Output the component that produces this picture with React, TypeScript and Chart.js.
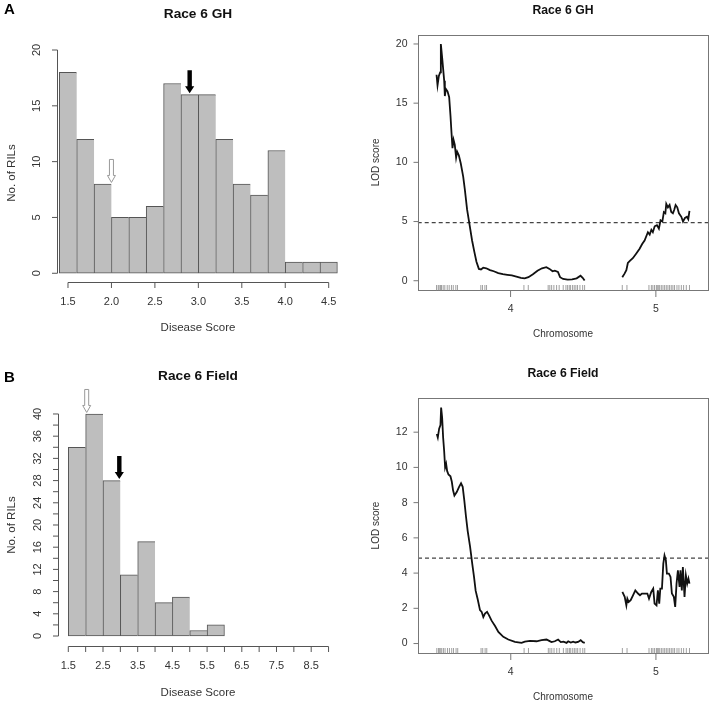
import React, { useEffect, useRef } from "react";
import { Chart, registerables } from "chart.js";
Chart.register(...registerables);

const W = 713;
const H = 704;
const FONT = "'Liberation Sans', Arial, Helvetica, sans-serif";

// ---------- Histogram A: Race 6 GH ----------
const ghBinStarts = [1.4, 1.6, 1.8, 2.0, 2.2, 2.4, 2.6, 2.8, 3.0, 3.2, 3.4, 3.6, 3.8, 4.0, 4.2, 4.4];
const ghCounts = [18, 12, 8, 5, 5, 6, 17, 16, 16, 12, 8, 7, 11, 1, 1, 1];
const ghBinWidth = 0.2;
const ghXTicks = [1.5, 2.0, 2.5, 3.0, 3.5, 4.0, 4.5];
const ghXLabels = [1.5, 2.0, 2.5, 3.0, 3.5, 4.0, 4.5];
const ghYTicks = [0, 5, 10, 15, 20];
const ghYLabels = [0, 5, 10, 15, 20];
const ghArrowX = [2.0, 2.9];
const ghArrowY = [8, 16];
const ghArrowFilled = [false, true];

// ---------- Histogram B: Race 6 Field ----------
const fieldBinStarts = [1.5, 2.0, 2.5, 3.0, 3.5, 4.0, 4.5, 5.0, 5.5];
const fieldCounts = [34, 40, 28, 11, 17, 6, 7, 1, 2];
const fieldBinWidth = 0.5;
const fieldXTicks = [1.5, 2.0, 2.5, 3.0, 3.5, 4.0, 4.5, 5.0, 5.5, 6.0, 6.5, 7.0, 7.5, 8.0, 8.5, 9.0];
const fieldXLabels = [1.5, 2.5, 3.5, 4.5, 5.5, 6.5, 7.5, 8.5];
const fieldYTicks = [0, 2, 4, 6, 8, 10, 12, 14, 16, 18, 20, 22, 24, 26, 28, 30, 32, 34, 36, 38, 40];
const fieldYLabels = [0, 4, 8, 12, 16, 20, 24, 28, 32, 36, 40];
const fieldArrowX = [2.03, 2.97];
const fieldArrowY = [40, 28];
const fieldArrowFilled = [false, true];

// ---------- LOD scans (positions in cM within chromosome) ----------
const chr4Length = 98.3;
const chr5Length = 44.6;
const chrGap = 25;
const chrNames = ["4", "5"];

const ghPos4 = [0, 0.66, 1.55, 2.4, 2.87, 3.76, 5.08, 5.52, 6.19, 7.29, 8.39, 9.28, 9.94, 10.6, 11.3, 12.1, 13.0, 13.7, 14.8, 16.1, 17.7, 18.8, 20.3, 22.1, 23.6, 25.0, 26.5, 28.1, 29.5, 31.0, 33.0, 35.5, 38.0, 41.0, 44.0, 47.0, 50.0, 53.0, 56.0, 58.5, 61.0, 64.0, 67.0, 70.0, 72.9, 75.0, 77.0, 78.5, 80.6, 82.0, 84.0, 87.0, 90.0, 93.0, 95.6, 97.0, 98.3];
const ghLod4 = [17.4, 16.5, 17.3, 17.6, 20.0, 18.8, 16.9, 15.6, 16.2, 16.0, 15.5, 13.9, 12.5, 11.2, 11.9, 11.5, 10.4, 10.9, 10.6, 9.9, 8.8, 7.7, 6.0, 4.6, 3.4, 2.5, 1.6, 1.0, 0.95, 1.1, 1.05, 0.9, 0.8, 0.65, 0.55, 0.5, 0.45, 0.35, 0.25, 0.2, 0.3, 0.55, 0.85, 1.05, 1.15, 1.0, 0.8, 0.85, 0.75, 0.3, 0.15, 0.1, 0.12, 0.2, 0.42, 0.25, 0.02];
const ghPos5 = [0, 1.5, 2.7, 3.7, 5.2, 7.0, 9.3, 11.5, 13.2, 14.8, 17.0, 18.2, 19.3, 20.3, 21.5, 23.0, 24.3, 25.4, 26.6, 27.6, 28.6, 29.2, 30.3, 31.4, 32.5, 33.6, 34.5, 35.4, 36.5, 37.6, 39.2, 40.3, 41.6, 42.9, 43.8, 44.6];
const ghLod5 = [0.3, 0.6, 0.9, 1.5, 1.7, 1.9, 2.3, 2.7, 3.1, 3.4, 4.1, 3.9, 4.3, 4.1, 4.6, 4.7, 4.4, 5.1, 5.0, 5.8, 5.7, 6.5, 6.2, 6.4, 5.8, 5.7, 6.0, 6.4, 6.2, 5.7, 5.4, 5.0, 5.3, 5.4, 5.2, 5.9];
const ghThreshold = 4.9;
const ghLodTicks = [0, 5, 10, 15, 20];

const fieldPos4 = [0, 0.66, 1.55, 2.43, 2.87, 3.53, 4.2, 4.86, 5.52, 6.19, 6.85, 7.73, 9.06, 9.94, 10.8, 11.7, 13.25, 14.8, 16.1, 17.2, 18.3, 19.4, 20.5, 22.1, 23.6, 24.7, 25.8, 27.2, 28.7, 29.8, 30.9, 32.0, 33.4, 34.7, 36.4, 38.7, 40.9, 44.2, 47.5, 51.9, 56.3, 58.5, 61.9, 66.3, 69.6, 72.9, 74.7, 76.2, 78.4, 80.6, 82.4, 84.2, 86.2, 87.3, 89.0, 90.6, 92.1, 93.9, 95.6, 97.0, 98.3];
const fieldLod4 = [11.9, 11.7, 12.2, 12.4, 13.4, 12.85, 11.7, 10.96, 10.0, 10.2, 9.8, 9.6, 9.5, 9.2, 8.7, 8.4, 8.6, 8.9, 9.1, 8.9, 8.1, 7.2, 6.4, 5.5, 4.5, 3.8, 3.0, 2.5, 1.9, 1.8, 1.5, 1.7, 1.8, 1.6, 1.3, 1.0, 0.66, 0.38, 0.23, 0.1, 0.04, 0.11, 0.15, 0.13, 0.19, 0.23, 0.15, 0.08, 0.13, 0.23, 0.08, 0.11, 0.04, 0.13, 0.06, 0.11, 0.06, 0.09, 0.19, 0.08, 0.04];
const fieldPos5 = [0, 1.55, 2.65, 3.31, 4.2, 5.52, 7.07, 8.61, 10.4, 11.7, 13.0, 14.8, 16.6, 17.7, 19.2, 20.5, 21.4, 22.7, 23.6, 24.5, 25.2, 26.3, 27.2, 28.0, 28.9, 29.6, 30.9, 32.0, 32.9, 34.2, 35.1, 36.0, 36.9, 38.0, 38.6, 39.5, 40.2, 41.3, 42.2, 43.1, 43.9, 44.6];
const fieldLod5 = [2.93, 2.65, 2.17, 2.55, 2.36, 2.46, 2.74, 3.02, 2.84, 2.74, 2.84, 2.84, 2.84, 2.55, 2.93, 3.12, 2.27, 2.17, 3.02, 2.27, 3.12, 3.12, 4.54, 5.0, 4.73, 3.97, 3.97, 3.78, 2.84, 2.65, 2.08, 3.4, 4.16, 3.21, 4.16, 3.02, 4.35, 2.65, 3.87, 3.4, 3.69, 3.4];
const fieldThreshold = 4.85;
const fieldLodTicks = [0, 2, 4, 6, 8, 10, 12];

const markers4 = [0, 1.1, 1.7, 2.6, 3.3, 4.4, 5.5, 7.1, 8.4, 9.9, 11.1, 12.8, 13.9, 29.4, 30.5, 32.1, 33.2, 58.0, 60.9, 74.1, 75.2, 76.4, 77.9, 79.7, 81.4, 84.1, 85.9, 87.0, 88.1, 89.0, 90.3, 91.4, 92.5, 93.6, 95.2, 97.0, 98.3];
const markers5 = [0, 3.1, 17.7, 19.3, 20.3, 21.4, 22.6, 23.2, 23.9, 24.8, 25.9, 27.0, 28.1, 29.2, 30.3, 31.4, 32.5, 33.6, 34.7, 36.3, 37.6, 39.2, 40.7, 42.5, 44.6];

// ---------- helpers ----------
function text(ctx: CanvasRenderingContext2D, s: string, x: number, y: number, font: string, align: CanvasTextAlign = "center", rot = 0, color = "#222") {
  ctx.save();
  ctx.translate(x, y);
  ctx.rotate(rot);
  ctx.font = font;
  ctx.fillStyle = color;
  ctx.textAlign = align;
  ctx.textBaseline = "middle";
  ctx.fillText(s, 0, 0);
  ctx.restore();
}

function drawArrow(ctx: CanvasRenderingContext2D, px: number, tipY: number, filled: boolean) {
  const len = 23;
  const hw = filled ? 2.2 : 2;
  const headW = filled ? 4.6 : 4;
  const headL = 7;
  ctx.save();
  ctx.beginPath();
  ctx.moveTo(px - hw, tipY - len);
  ctx.lineTo(px + hw, tipY - len);
  ctx.lineTo(px + hw, tipY - headL);
  ctx.lineTo(px + headW, tipY - headL);
  ctx.lineTo(px, tipY);
  ctx.lineTo(px - headW, tipY - headL);
  ctx.lineTo(px - hw, tipY - headL);
  ctx.closePath();
  if (filled) {
    ctx.fillStyle = "#000";
    ctx.fill();
  } else {
    ctx.fillStyle = "#fff";
    ctx.fill();
    ctx.strokeStyle = "#999";
    ctx.lineWidth = 1;
    ctx.stroke();
  }
  ctx.restore();
}

const baseOptions = (pad: any, xMin: number, xMax: number, yMin: number, yMax: number) => ({
  responsive: false,
  animation: false as const,
  devicePixelRatio: 1,
  events: [] as any[],
  layout: { padding: pad },
  plugins: { legend: { display: false }, tooltip: { enabled: false }, title: { display: false } },
  scales: {
    x: { type: "linear" as const, display: false, min: xMin, max: xMax, offset: false },
    y: { type: "linear" as const, display: false, min: yMin, max: yMax },
  },
});

type HistP = {
  binStarts: number[]; counts: number[]; binWidth: number;
  xMin: number; xMax: number; yMin: number; yMax: number; pad: any;
  xTicks: number[]; xLabels: number[]; yTicks: number[]; yLabels: number[];
  arrowX: number[]; arrowY: number[]; arrowFilled: boolean[];
  title: string; titleY: number; letter: string; letterY: number;
  xTitleY: number; yTitleY: number; centerX: number;
};

function histConfig(p: HistP): any {
  const n = p.counts.length;
  const plugin = {
    id: "histDecor",
    afterDraw(chart: any) {
      const { ctx, chartArea: a, scales } = chart;
      const x = scales.x, y = scales.y;
      ctx.save();
      ctx.strokeStyle = "#555";
      ctx.lineWidth = 1;
      ctx.beginPath();
      const lx = Math.round(a.left) + 0.5;
      ctx.moveTo(lx, y.getPixelForValue(p.yTicks[0]));
      ctx.lineTo(lx, y.getPixelForValue(p.yTicks[p.yTicks.length - 1]));
      p.yTicks.forEach((t) => {
        const py = y.getPixelForValue(t);
        ctx.moveTo(lx - 5.5, py);
        ctx.lineTo(lx, py);
      });
      const by = Math.round(a.bottom) + 0.5;
      ctx.moveTo(x.getPixelForValue(p.xTicks[0]), by);
      ctx.lineTo(x.getPixelForValue(p.xTicks[p.xTicks.length - 1]), by);
      p.xTicks.forEach((t) => {
        const px = x.getPixelForValue(t);
        ctx.moveTo(px, by);
        ctx.lineTo(px, by + 5.5);
      });
      ctx.stroke();
      ctx.restore();
      const tickFont = `11px ${FONT}`;
      p.yLabels.forEach((t) => text(ctx, String(t), a.left - 19.5, y.getPixelForValue(t), tickFont, "center", -Math.PI / 2, "#333"));
      p.xLabels.forEach((t) => text(ctx, t.toFixed(1), x.getPixelForValue(t), a.bottom + 19.5, tickFont, "center", 0, "#333"));
      text(ctx, "Disease Score", p.centerX, p.xTitleY, `11.5px ${FONT}`, "center", 0, "#333");
      text(ctx, "No. of RILs", 12, p.yTitleY, `11.5px ${FONT}`, "center", -Math.PI / 2, "#333");
      text(ctx, p.title, p.centerX, p.titleY, `bold 13.7px ${FONT}`, "center", 0, "#111");
      text(ctx, p.letter, 9.5, p.letterY, `bold 15px ${FONT}`, "center", 0, "#000");
      p.arrowX.forEach((ax, i) => {
        drawArrow(ctx, x.getPixelForValue(ax), y.getPixelForValue(p.arrowY[i]) - 1.5, p.arrowFilled[i]);
      });
    },
  };
  return {
    type: "bar",
    data: {
      datasets: [
        {
          data: p.binStarts.map((s, i) => ({ x: s + p.binWidth / 2, y: p.counts[i] })),
          backgroundColor: "#bebebe",
          borderColor: "#555",
          borderWidth: (c: any) => ({ top: 1, bottom: 1, left: 1, right: c.dataIndex === n - 1 ? 1 : 0 }),
          borderSkipped: false,
          barThickness: "flex",
          barPercentage: 1,
          categoryPercentage: 1,
        },
      ],
    },
    options: baseOptions(p.pad, p.xMin, p.xMax, p.yMin, p.yMax),
    plugins: [plugin],
  };
}

type LodP = {
  pos4: number[]; lod4: number[]; pos5: number[]; lod5: number[]; threshold: number;
  yMin: number; yMax: number; yTicks: number[]; pad: any;
  title: string; titleY: number; centerX: number;
};

function lodConfig(p: LodP): any {
  const xMin = -chrGap / 2;
  const chr5Offset = chr4Length + chrGap;
  const xMax = chr5Offset + chr5Length + chrGap / 2;
  const chrMids = [chr4Length / 2, chr5Offset + chr5Length / 2];
  const plugin = {
    id: "lodDecor",
    afterDraw(chart: any) {
      const { ctx, chartArea: a, scales } = chart;
      const x = scales.x, y = scales.y;
      ctx.save();
      ctx.strokeStyle = "#777";
      ctx.lineWidth = 1;
      const L = Math.round(a.left) + 0.5, R = Math.round(a.right) + 0.5, T = Math.round(a.top) + 0.5, B = Math.round(a.bottom) + 0.5;
      ctx.strokeRect(L, T, R - L, B - T);
      ctx.beginPath();
      p.yTicks.forEach((t) => {
        const py = y.getPixelForValue(t);
        ctx.moveTo(L - 5, py);
        ctx.lineTo(L, py);
      });
      chrMids.forEach((m) => {
        const px = x.getPixelForValue(m);
        ctx.moveTo(px, B);
        ctx.lineTo(px, B + 6.5);
      });
      ctx.stroke();
      ctx.strokeStyle = "#888";
      ctx.lineWidth = 0.8;
      ctx.beginPath();
      markers4.forEach((m) => {
        const px = x.getPixelForValue(m);
        ctx.moveTo(px, B - 5.5);
        ctx.lineTo(px, B);
      });
      markers5.forEach((m) => {
        const px = x.getPixelForValue(m + chr5Offset);
        ctx.moveTo(px, B - 5.5);
        ctx.lineTo(px, B);
      });
      ctx.stroke();
      ctx.restore();
      const tickFont = `10.5px ${FONT}`;
      p.yTicks.forEach((t) => text(ctx, String(t), L - 11, y.getPixelForValue(t), tickFont, "right", 0, "#333"));
      chrMids.forEach((m, i) => text(ctx, chrNames[i], x.getPixelForValue(m), B + 19, tickFont, "center", 0, "#333"));
      text(ctx, "Chromosome", p.centerX, B + 43.5, `10px ${FONT}`, "center", 0, "#333");
      text(ctx, "LOD score", 376.7, (a.top + a.bottom) / 2, `10px ${FONT}`, "center", -Math.PI / 2, "#333");
      text(ctx, p.title, p.centerX, p.titleY, `bold 12.2px ${FONT}`, "center", 0, "#111");
    },
  };
  const line = { borderColor: "#111", borderWidth: 1.8, pointRadius: 0, tension: 0, fill: false };
  return {
    type: "line",
    data: {
      datasets: [
        { ...line, data: p.pos4.map((v, i) => ({ x: v, y: p.lod4[i] })) },
        { ...line, data: p.pos5.map((v, i) => ({ x: v + chr5Offset, y: p.lod5[i] })) },
        {
          borderColor: "#444", borderWidth: 1.2, borderDash: [4, 3], pointRadius: 0, fill: false,
          data: [{ x: xMin, y: p.threshold }, { x: xMax, y: p.threshold }],
        },
      ],
    },
    options: baseOptions(p.pad, xMin, xMax, p.yMin, p.yMax),
    plugins: [plugin],
  };
}

function padFor(left: number, top: number, right: number, bottom: number) {
  return { left, top, right: W - right, bottom: H - bottom };
}

const configs = [
  () => histConfig({
    binStarts: ghBinStarts, counts: ghCounts, binWidth: ghBinWidth,
    xMin: 1.37, xMax: 4.63, yMin: -0.8, yMax: 20.8, pad: padFor(56.7, 41.07, 340, 282.2),
    xTicks: ghXTicks, xLabels: ghXLabels, yTicks: ghYTicks, yLabels: ghYLabels,
    arrowX: ghArrowX, arrowY: ghArrowY, arrowFilled: ghArrowFilled,
    title: "Race 6 GH", titleY: 14, letter: "A", letterY: 10, xTitleY: 328, yTitleY: 173, centerX: 198,
  }),
  () => histConfig({
    binStarts: fieldBinStarts, counts: fieldCounts, binWidth: fieldBinWidth,
    xMin: 1.1945, xMax: 9.33, yMin: -1.8, yMax: 41.6, pad: padFor(57.7, 405.1, 340, 646),
    xTicks: fieldXTicks, xLabels: fieldXLabels, yTicks: fieldYTicks, yLabels: fieldYLabels,
    arrowX: fieldArrowX, arrowY: fieldArrowY, arrowFilled: fieldArrowFilled,
    title: "Race 6 Field", titleY: 376.7, letter: "B", letterY: 378, xTitleY: 693, yTitleY: 525, centerX: 198,
  }),
  () => lodConfig({
    pos4: ghPos4, lod4: ghLod4, pos5: ghPos5, lod5: ghLod5, threshold: ghThreshold,
    yMin: -0.8, yMax: 20.8, yTicks: ghLodTicks, pad: padFor(417.7, 34.5, 708.3, 290.2),
    title: "Race 6 GH", titleY: 11, centerX: 563,
  }),
  () => lodConfig({
    pos4: fieldPos4, lod4: fieldLod4, pos5: fieldPos5, lod5: fieldLod5, threshold: fieldThreshold,
    yMin: -0.536, yMax: 13.94, yTicks: fieldLodTicks, pad: padFor(418, 398, 708.3, 653),
    title: "Race 6 Field", titleY: 373.3, centerX: 563,
  }),
];

function Panel({ make }: { make: () => any }) {
  const ref = useRef<HTMLCanvasElement>(null);
  useEffect(() => {
    const chart = new Chart(ref.current as HTMLCanvasElement, make());
    return () => chart.destroy();
  }, []);
  return (
    <canvas
      ref={ref}
      width={W}
      height={H}
      style={{ position: "absolute", left: 0, top: 0, width: W, height: H }}
    />
  );
}

export default function App() {
  return (
    <div style={{ position: "absolute", left: 0, top: 0, width: W, height: H, background: "#fff", overflow: "hidden" }}>
      {configs.map((m, i) => (
        <Panel key={i} make={m} />
      ))}
    </div>
  );
}
